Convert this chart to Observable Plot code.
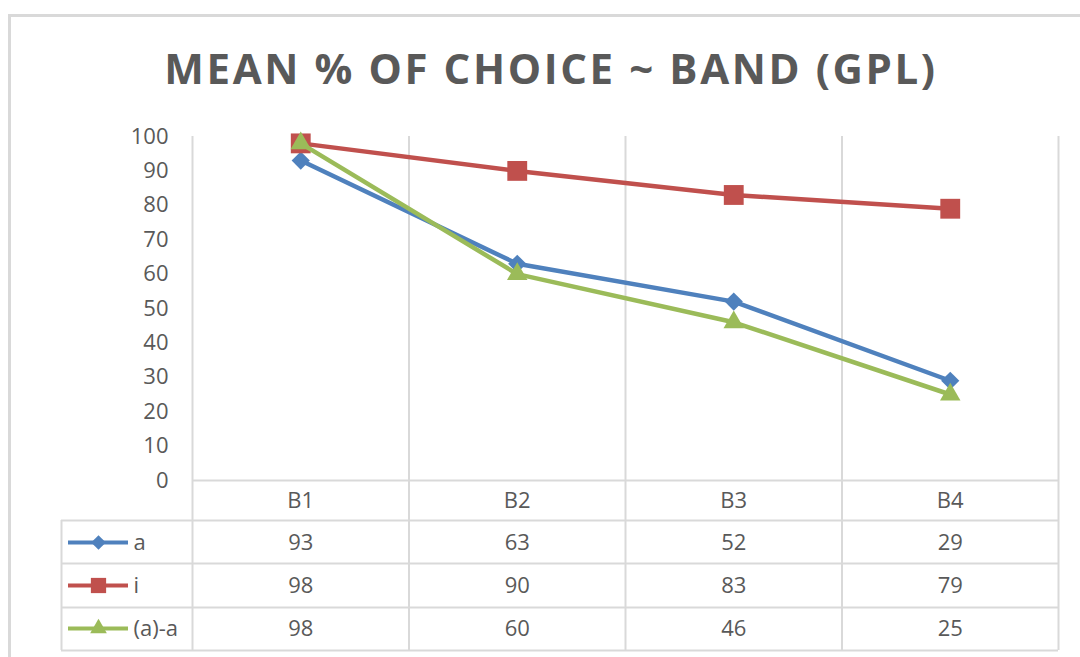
<!DOCTYPE html>
<html>
<head>
<meta charset="utf-8">
<script src="https://cdn.jsdelivr.net/npm/d3@7"></script>
<script src="https://cdn.jsdelivr.net/npm/@observablehq/plot@0.6"></script>
<style>
  body { margin: 0; background: #fff; }
  #chart { position: relative; width: 1080px; height: 657px; overflow: hidden; font-family: "Open Sans", sans-serif; }
  #frame { position: absolute; left: 8px; top: 14px; width: 1200px; height: 800px;
           border-top: 3px solid #d9d9d9; border-left: 3px solid #d9d9d9; }
  #title { position: absolute; top: 47px; left: 11px; width: 1080px; text-align: center;
           font-weight: 700; font-size: 42px; line-height: 42px; letter-spacing: 2.6px;
           color: #595959; white-space: pre; }
  #chart svg { position: absolute; left: 0; top: 0; }
</style>
</head>
<body>
<div id="chart">
  <div id="frame"></div>
  <div id="title">MEAN % OF CHOICE ~ BAND (GPL)</div>
</div>
<script>
// Bands on the horizontal axis
const categories = ["B1", "B2", "B3", "B4"];

// Series names and their mean % of choice per band
const seriesNames = ["a", "i", "(a)-a"];
const valuesA = [93, 63, 52, 29];
const valuesI = [98, 90, 83, 79];
const valuesAA = [98, 60, 46, 25];

// Vertical axis ticks
const yTicks = [0, 10, 20, 30, 40, 50, 60, 70, 80, 90, 100];

// Styling for each series
const colors = ["#4f81bd", "#c0504d", "#9bbb59"];
const symbols = ["diamond2", "square", "triangle"];
const markerR = [8.2, 11.2, 7.6];
const keyR = [6.6, 8.6, 6.2];

const seriesValues = [valuesA, valuesI, valuesAA];
const series = seriesNames.map((name, k) => ({
  name, values: seriesValues[k], color: colors[k], symbol: symbols[k], r: markerR[k], keyR: keyR[k]
}));

// Data-table layout below the plot (pixel offsets from the zero line)
const headerDy = 20;
const rowDy = [62, 105, 148];
const rowLineDy = [40, 83, 127, 170];
const grid = "#d9d9d9";
const textColor = "#595959";
const fs = 22;

// Category i sits in the middle of slot [i, i+1]
const cx = (d, i) => i + 0.5;
const boundaries = d3.range(categories.length + 1);

const marks = [
  // vertical category separators, continuing down through the data table
  Plot.ruleX(boundaries, {stroke: grid, strokeWidth: 2, insetBottom: -rowLineDy[3]}),
  // left edge of the legend column in the table
  Plot.ruleX([0], {stroke: grid, strokeWidth: 2, dx: -131, insetTop: 384, insetBottom: -rowLineDy[3]}),
  // zero line / top of the header row
  Plot.ruleY([0], {stroke: grid, strokeWidth: 2}),
  // table row separators
  ...rowLineDy.map(dy => Plot.ruleY([0], {stroke: grid, strokeWidth: 2, dy, insetLeft: -131})),
  // y axis labels
  Plot.axisY(yTicks, {tickSize: 0, tickPadding: 24, fontSize: fs, label: null}),
  // category header labels
  Plot.text(categories, {x: cx, frameAnchor: "bottom", lineAnchor: "middle", dy: headerDy, text: d => d, fontSize: fs, fill: textColor}),
];

series.forEach((s) => {
  // line and markers for the series
  marks.push(
    Plot.line(s.values, {x: cx, y: d => d, stroke: s.color, strokeWidth: 4.5}),
    Plot.dot(s.values, {x: cx, y: d => d, symbol: s.symbol, fill: s.color, r: s.r, stroke: "none"})
  );
});

series.forEach((s, k) => {
  const dy = rowDy[k];
  marks.push(
    // legend key inside the table
    Plot.ruleY([0], {dy, insetLeft: -124, insetRight: 930, stroke: s.color, strokeWidth: 4}),
    Plot.dot([0], {frameAnchor: "left", dx: -94, y: d => d, dy, symbol: s.symbol, fill: s.color, r: s.keyR, stroke: "none"}),
    Plot.text([s.name], {frameAnchor: "bottom-left", lineAnchor: "middle", dx: -59, dy, text: d => d, textAnchor: "start", fontSize: fs, fill: textColor}),
    // values row
    Plot.text(s.values, {x: cx, frameAnchor: "bottom", lineAnchor: "middle", dy, text: d => String(d), fontSize: fs, fill: textColor})
  );
});

const chart = Plot.plot({
  width: 1080,
  height: 657,
  marginLeft: 192,
  marginRight: 22,
  marginTop: 136,
  marginBottom: 177,
  x: {type: "linear", domain: [0, categories.length], axis: null},
  y: {domain: [0, 100], axis: null},
  style: {fontFamily: "'Open Sans', sans-serif", fontSize: fs + "px", color: textColor, background: "transparent", overflow: "visible"},
  marks
});

document.getElementById("chart").appendChild(chart);
</script>
</body>
</html>
